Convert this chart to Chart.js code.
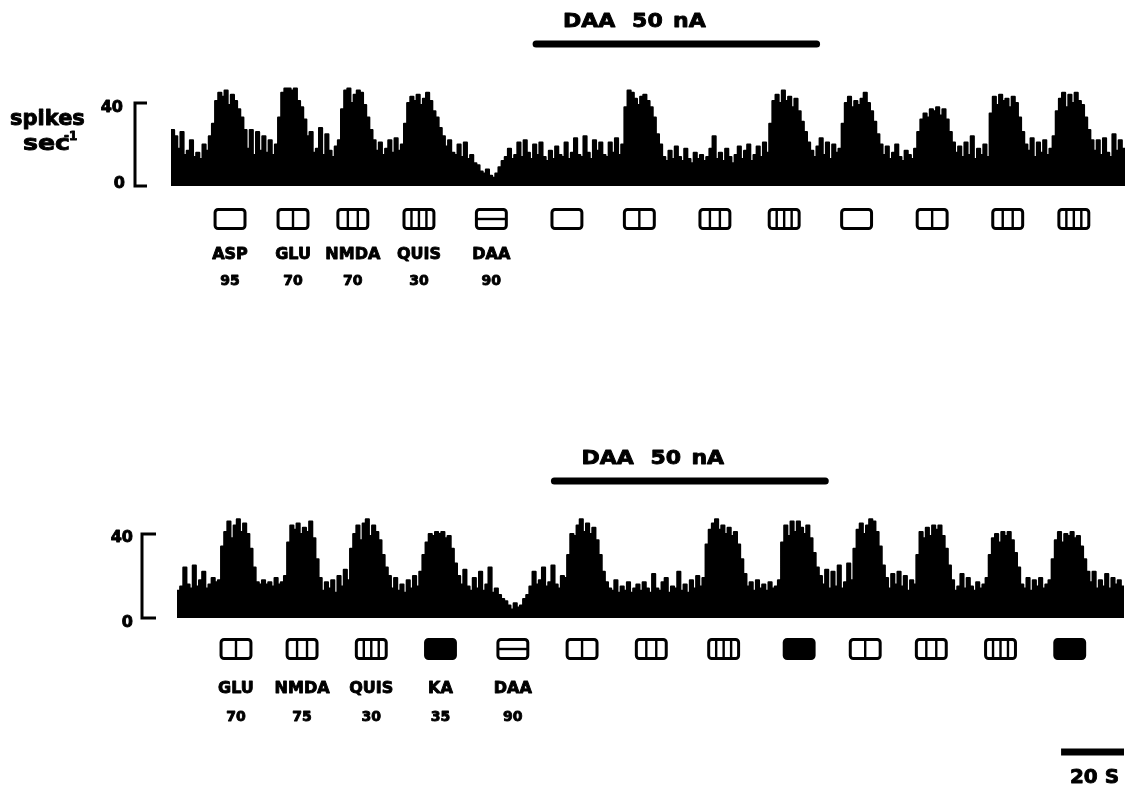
<!DOCTYPE html>
<html>
<head>
<meta charset="utf-8">
<script src="https://cdn.jsdelivr.net/npm/chart.js@4.4.1/dist/chart.umd.min.js"></script>
<style>
  html, body { margin: 0; padding: 0; background: #fff; }
  #wrap { position: relative; width: 1129px; height: 791px; background: #fff; }
  #wrap canvas { position: absolute; left: 0; top: 0; }
</style>
</head>
<body>
<div id="wrap">
  <canvas id="chart-top" width="1129" height="791"></canvas>
  <canvas id="chart-bottom" width="1129" height="791"></canvas>
</div>
<script>
// ratemeter traces, 1 s bins, spikes/s (20 values per row = 20 s)
const topRate = [
  27,24,18,26,15,17,22,14,16,13,20,17,24,30,41,45,43,46,39,44,
  41,37,33,27,18,27,15,26,17,24,16,22,15,20,33,45,47,47,46,47,
  41,38,32,24,26,16,18,28,15,25,17,14,19,22,37,46,47,40,44,46,
  45,39,33,27,22,17,21,15,18,22,16,23,17,20,30,40,43,41,44,39,
  42,45,41,36,33,28,24,19,22,16,15,20,14,21,13,15,11,10,7,6,
  8,5,4,6,9,12,14,18,13,15,21,14,22,16,13,20,15,21,14,12,
  17,13,19,15,14,21,13,16,23,15,14,24,16,13,22,17,21,15,14,21,
  16,23,15,20,38,46,45,42,39,43,44,41,38,33,25,20,14,12,17,13,
  19,14,12,18,13,11,16,13,15,12,14,18,24,13,16,12,18,14,11,15,
  19,13,17,20,12,15,19,14,21,16,30,41,44,40,46,41,43,38,42,36,
  31,26,21,17,14,19,23,15,21,13,20,16,18,30,40,43,38,41,39,42,
  45,40,36,31,25,20,15,19,13,16,20,14,12,17,15,13,18,26,32,35,
  33,37,36,38,34,37,32,26,21,16,19,14,21,15,24,13,18,15,20,14,
  35,43,39,44,41,42,38,43,40,33,26,20,17,23,14,21,16,22,15,18,
  24,36,42,45,38,44,40,45,41,39,33,27,22,17,22,15,23,16,14,25,
  17,22,18
];
const bottomRate = [
  13,15,24,16,14,25,15,18,22,14,16,19,17,18,34,41,46,38,44,47,
  41,45,40,33,24,17,16,18,16,17,15,19,16,17,20,36,44,42,45,40,
  43,41,46,38,28,19,13,17,14,18,12,20,15,23,18,33,40,44,37,45,
  47,39,44,41,37,30,24,20,14,19,13,16,12,18,14,20,15,22,30,36,
  40,39,41,40,41,38,39,33,26,20,16,23,15,13,19,14,22,13,16,24,
  12,14,11,9,8,6,4,7,5,6,9,11,15,22,16,18,24,15,17,25,
  16,14,20,19,30,40,39,44,47,41,45,40,43,37,30,22,17,14,13,18,
  12,15,13,17,12,14,16,13,17,14,12,21,14,13,17,19,12,15,14,22,
  13,16,12,18,14,20,15,19,35,42,45,47,42,44,40,43,39,41,35,28,
  21,15,17,13,18,14,16,13,17,14,15,18,36,44,39,46,41,46,43,40,
  44,38,31,24,20,16,23,14,22,15,25,14,17,26,18,33,42,45,40,44,
  47,46,41,34,25,19,14,21,16,22,15,20,13,18,16,30,41,38,43,39,
  44,42,44,39,33,25,18,13,15,21,14,19,15,13,17,14,16,19,30,38,
  40,36,41,39,41,37,31,24,16,14,19,13,18,15,19,14,16,18,28,37,
  41,36,40,39,41,38,39,34,28,22,17,22,14,18,15,21,14,19,16,18,
  15
];

// iontophoretic pulses: drug and onset (s)
const topPulseDrug = ['ASP','GLU','NMDA','QUIS','DAA','ASP','GLU','NMDA','QUIS','ASP','GLU','NMDA','QUIS'];
const topPulseStart = [14, 34, 53, 74, 97, 121, 144, 168, 190, 213, 237, 261, 282];
const bottomPulseDrug = ['GLU','NMDA','QUIS','KA','DAA','GLU','NMDA','QUIS','KA','GLU','NMDA','QUIS','KA'];
const bottomPulseStart = [14, 35, 57, 79, 102, 124, 146, 169, 193, 214, 235, 257, 279];
const PULSE_S = 9.5;

// key under the first five pulses (ejecting current, nA)
const topNames = ['ASP', 'GLU', 'NMDA', 'QUIS', 'DAA'];
const topDoses = ['95', '70', '70', '30', '90'];
const bottomNames = ['GLU', 'NMDA', 'QUIS', 'KA', 'DAA'];
const bottomDoses = ['70', '75', '30', '35', '90'];

// DAA 50 nA continuous ejection (s)
const daaTop = [115, 206];
const daaBottom = [119, 207];

const yTicks = [0, 40];
const Y_MAX = 48;
const scaleBarS = [281, 301]; // 20 s

const FONT = "'DejaVu Sans', sans-serif";

// heavy lettering like the original figure: fill plus a thin outline
function txt(ctx, s, x, y, size, align, sx) {
  ctx.save();
  ctx.font = `bold ${size}px ${FONT}`;
  ctx.textAlign = align || 'center';
  ctx.textBaseline = 'alphabetic';
  ctx.translate(x, y);
  ctx.scale(sx || 1, 1);
  ctx.lineWidth = 0.9;
  ctx.lineJoin = 'round';
  ctx.fillText(s, 0, 0);
  ctx.strokeText(s, 0, 0);
  ctx.restore();
}

function pulseBox(ctx, x0, x1, yc, h, drug) {
  const w = x1 - x0, y0 = yc - h / 2;
  ctx.save();
  ctx.lineWidth = 3;
  ctx.beginPath();
  ctx.roundRect(x0, y0, w, h, 3);
  if (drug === 'KA') ctx.fill();
  ctx.stroke();
  ctx.lineWidth = 2.4;
  const n = { GLU: 1, NMDA: 2, QUIS: 3 }[drug] || 0;
  ctx.beginPath();
  for (let i = 1; i <= n; i++) {
    const x = x0 + (w * i) / (n + 1);
    ctx.moveTo(x, y0); ctx.lineTo(x, y0 + h);
  }
  if (drug === 'DAA') { ctx.moveTo(x0, yc); ctx.lineTo(x1, yc); }
  ctx.stroke();
  ctx.restore();
}

function annotations(p) {
  return {
    id: 'annot',
    afterDatasetsDraw(chart) {
      const { ctx, scales: { x, y } } = chart;
      ctx.save();
      ctx.fillStyle = '#000';
      ctx.strokeStyle = '#000';

      // y bracket 0-40
      const y0 = y.getPixelForValue(yTicks[0]);
      const y40 = y.getPixelForValue(yTicks[1]);
      ctx.lineWidth = 3;
      ctx.beginPath();
      ctx.moveTo(p.bracketX + p.tickLen, y40);
      ctx.lineTo(p.bracketX, y40);
      ctx.lineTo(p.bracketX, y0);
      ctx.lineTo(p.bracketX + p.tickLen, y0);
      ctx.stroke();
      txt(ctx, String(yTicks[1]), p.lab40[0], p.lab40[1], 16, 'right');
      txt(ctx, String(yTicks[0]), p.lab0[0], p.lab0[1], 16, 'right');

      if (p.units) {
        txt(ctx, 'spikes', 10, 125, 21, 'left');
        txt(ctx, 'sec', 23, 150, 21, 'left', 1.2);
        txt(ctx, '-1', 64, 140, 12, 'left');
      }

      // DAA 50 nA bar
      const bx0 = x.getPixelForValue(p.daa[0]);
      const bx1 = x.getPixelForValue(p.daa[1]);
      ctx.lineWidth = 7;
      ctx.lineCap = 'round';
      ctx.beginPath();
      ctx.moveTo(bx0 + 3, p.daaBarY);
      ctx.lineTo(bx1 - 3, p.daaBarY);
      ctx.stroke();
      ctx.lineCap = 'butt';
      txt(ctx, 'DAA', bx0 + 30, p.daaTextY, 20, 'left', 1.1);
      txt(ctx, '50', bx0 + 99, p.daaTextY, 20, 'left', 1.1);
      txt(ctx, 'nA', bx0 + 140, p.daaTextY, 20, 'left', 1.1);

      // pulse markers and key
      p.starts.forEach((t, i) => {
        const xa = x.getPixelForValue(t);
        const xb = x.getPixelForValue(t + PULSE_S);
        pulseBox(ctx, xa, xb, p.boxY, 19, p.drugs[i]);
        if (i < p.names.length) {
          const xc = (xa + xb) / 2;
          txt(ctx, p.names[i], xc, p.nameY, 16, 'center');
          txt(ctx, p.doses[i], xc, p.doseY, 14, 'center');
        }
      });

      // time calibration
      if (p.scaleBar) {
        const sx0 = x.getPixelForValue(scaleBarS[0]);
        const sx1 = x.getPixelForValue(scaleBarS[1]);
        ctx.lineWidth = 7;
        ctx.beginPath();
        ctx.moveTo(sx0, p.scaleBarY);
        ctx.lineTo(sx1, p.scaleBarY);
        ctx.stroke();
        txt(ctx, '20 S', (sx0 + sx1) / 2 + 2, p.scaleBarY + 31, 20, 'center');
      }
      ctx.restore();
    },
  };
}

function buildTrace(canvasId, rate, p) {
  const pts = rate.map((v, i) => ({ x: i, y: v }));
  pts.push({ x: rate.length, y: rate[rate.length - 1] });
  const H = 791, W = 1129;
  const top = p.base - Y_MAX * p.pxPerUnit;
  new Chart(document.getElementById(canvasId), {
    type: 'line',
    data: {
      datasets: [{
        data: pts,
        stepped: true,
        fill: 'origin',
        backgroundColor: '#000',
        borderColor: '#000',
        borderWidth: 2,
        borderJoinStyle: 'round',
        pointRadius: 0,
      }],
    },
    options: {
      responsive: false,
      animation: false,
      layout: {
        padding: { left: p.left, right: W - p.right, top: top, bottom: H - p.base },
      },
      plugins: { legend: { display: false }, tooltip: { enabled: false } },
      scales: {
        x: { type: 'linear', min: 0, max: rate.length, display: false },
        y: { min: 0, max: Y_MAX, display: false },
      },
    },
    plugins: [annotations(p)],
  });
}

buildTrace('chart-top', topRate, {
  left: 171, right: 1125, base: 186, pxPerUnit: 2.075,
  bracketX: 135, tickLen: 12, lab40: [123, 112], lab0: [125, 188],
  units: true, daa: daaTop, daaTextY: 27, daaBarY: 44,
  starts: topPulseStart, drugs: topPulseDrug, names: topNames, doses: topDoses,
  boxY: 219, nameY: 259, doseY: 285, scaleBar: false,
});

buildTrace('chart-bottom', bottomRate, {
  left: 177, right: 1124, base: 618, pxPerUnit: 2.1,
  bracketX: 142, tickLen: 14, lab40: [133, 542], lab0: [133, 627],
  units: false, daa: daaBottom, daaTextY: 464, daaBarY: 481,
  starts: bottomPulseStart, drugs: bottomPulseDrug, names: bottomNames, doses: bottomDoses,
  boxY: 649, nameY: 693, doseY: 721, scaleBar: true, scaleBarY: 752,
});
</script>
</body>
</html>
